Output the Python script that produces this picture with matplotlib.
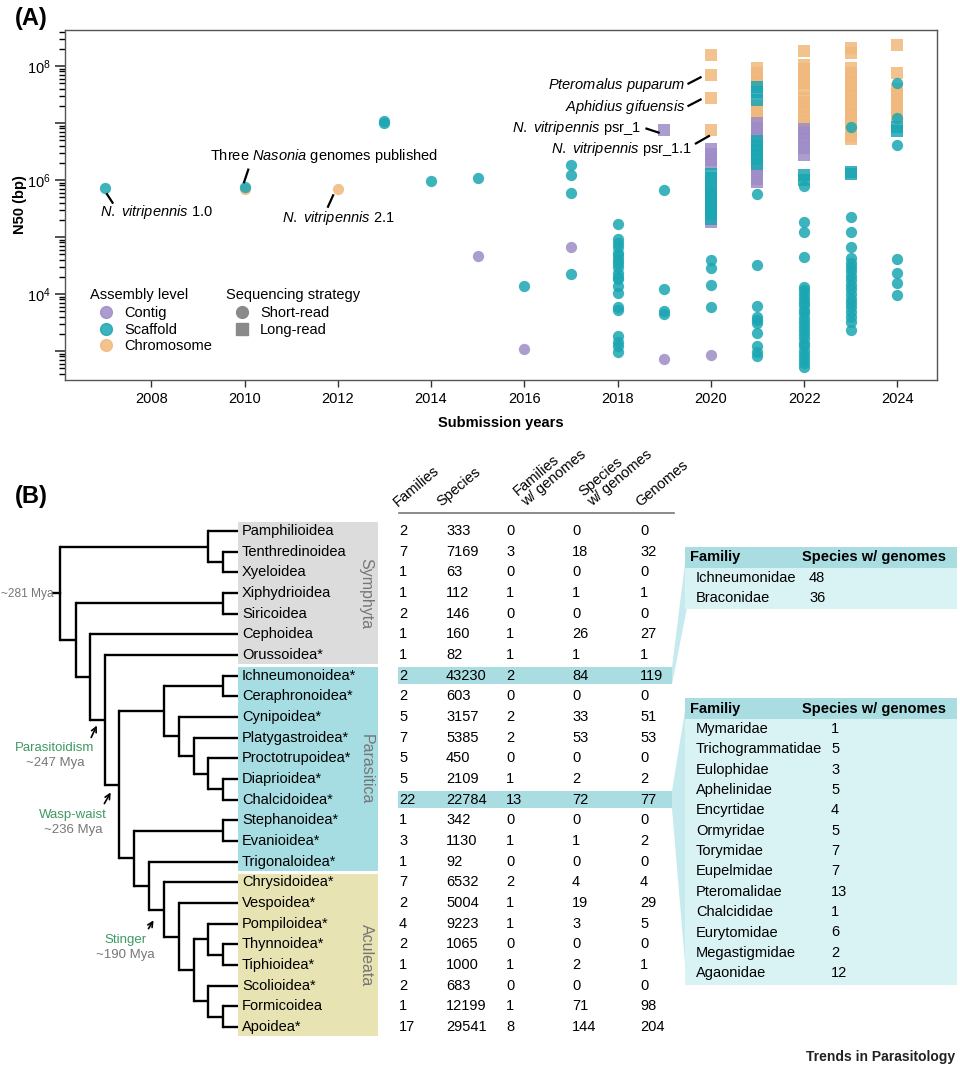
import math
import matplotlib.pyplot as plt
from matplotlib.lines import Line2D
from matplotlib.legend import Legend
from matplotlib.patches import Rectangle, Polygon
from matplotlib.ticker import FixedLocator, FuncFormatter, LogLocator, NullFormatter

plt.rcParams['font.family'] = ['Liberation Sans', 'DejaVu Sans']
plt.rcParams['mathtext.fontset'] = 'custom'
plt.rcParams['mathtext.rm'] = 'Liberation Sans'
plt.rcParams['mathtext.it'] = 'Liberation Sans:italic'
plt.rcParams['mathtext.bf'] = 'Liberation Sans:bold'

# ---------------- panel A data (N50 in bp) ----------------
contig_short = {2015: [4.7e4], 2016: [1.1e3], 2017: [6.6e4], 2019: [720], 2020: [850]}
chrom_short = {2010: [6.8e5], 2012: [6.8e5]}
scaffold_short = {
    2007: [7.2e5],
    2010: [7.6e5],
    2013: [1.0e7, 1.07e7],
    2014: [9.5e5],
    2015: [1.1e6],
    2016: [1.4e4],
    2017: [1.8e6, 1.2e6, 5.9e5, 2.2e4],
    2018: [1.7e5, 9.1e4, 7.9e4, 6.6e4, 5.2e4, 4.6e4, 4.0e4, 3.5e4, 3.0e4, 2.3e4,
           2.0e4, 1.8e4, 1.4e4, 1.05e4, 5.9e3, 5.2e3, 1.8e3, 1.45e3, 1.2e3, 950],
    2019: [6.6e5, 1.23e4, 5.0e3, 4.5e3],
    2020: [4.0e4, 2.8e4, 1.45e4, 5.9e3],
    2021: [5.6e5, 3.2e4, 6.2e3, 4.0e3, 3.5e3, 3.1e3, 2.1e3, 1.2e3, 950, 800],
    2022: [7.9e5, 1.8e5, 1.2e5, 4.5e4, 1.3e4, 1.15e4, 1.0e4, 8.5e3, 7.2e3, 6.3e3,
           5.2e3, 4.6e3, 3.8e3, 3.2e3, 2.75e3, 2.3e3, 2.0e3, 1.66e3, 1.4e3, 1.2e3,
           1.0e3, 850, 720, 620, 520],
    2023: [8.5e6, 2.2e5, 1.23e5, 6.6e4, 4.3e4, 3.5e4, 3.0e4, 2.5e4, 2.1e4, 1.74e4,
           1.45e4, 1.2e4, 1.0e4, 8.3e3, 6.9e3, 5.8e3, 4.8e3, 4.0e3, 3.2e3, 2.3e3],
    2024: [5.0e7, 1.2e7, 4.1e6, 4.1e4, 2.3e4, 1.55e4, 9.5e3],
}
contig_long = {
    2019: [7.6e6],
    2020: [3.5e6, 2.8e6, 2.2e6, 1.9e6, 1.8e5],
    2021: [1.0e7, 8.3e6, 7.1e6, 6.0e6, 1.7e6, 1.3e6, 1.05e6, 9.1e5],
    2022: [7.9e6, 6.6e6, 5.4e6, 4.4e6, 3.6e6, 2.75e6],
}
scaffold_long = {
    2020: [1.26e6, 1.07e6, 7.9e5, 6.6e5, 5.6e5, 4.8e5, 4.0e5, 3.4e5, 2.95e5, 2.5e5, 2.1e5],
    2021: [4.2e7, 3.5e7, 2.5e7, 4.8e6, 4.0e6, 3.3e6, 2.75e6, 2.3e6, 1.9e6],
    2022: [1.23e6, 1.0e6],
    2023: [1.38e6, 1.26e6],
    2024: [8.5e6, 7.2e6],
}
chrom_long = {
    2020: [1.55e8, 6.9e7, 2.75e7, 7.6e6],
    2021: [9.1e7, 7.6e7, 6.3e7, 5.2e7, 2.0e7, 1.66e7, 1.38e7, 1.15e7],
    2022: [1.8e8, 1.05e8, 8.7e7, 7.2e7, 6.0e7, 5.0e7, 4.0e7, 2.75e7, 2.3e7, 1.9e7,
           1.6e7, 1.3e7, 1.1e7, 9.1e6],
    2023: [2.1e8, 1.66e8, 9.1e7, 7.6e7, 6.3e7, 5.2e7, 4.4e7, 3.6e7, 3.0e7, 2.5e7,
           2.1e7, 1.74e7, 1.45e7, 1.2e7, 1.0e7, 7.9e6, 6.0e6, 5.2e6],
    2024: [2.3e8, 7.6e7, 4.0e7, 3.2e7, 2.5e7, 2.0e7, 1.6e7, 1.3e7],
}

C_CONTIG = '#9d8cc6'
C_SCAFF = '#1ba6b2'
C_CHROM = '#f0b87c'

# ---------------- panel B data ----------------
superfamilies = ['Pamphilioidea', 'Tenthredinoidea', 'Xyeloidea', 'Xiphydrioidea', 'Siricoidea',
                 'Cephoidea', 'Orussoidea*', 'Ichneumonoidea*', 'Ceraphronoidea*', 'Cynipoidea*',
                 'Platygastroidea*', 'Proctotrupoidea*', 'Diaprioidea*', 'Chalcidoidea*',
                 'Stephanoidea*', 'Evanioidea*', 'Trigonaloidea*', 'Chrysidoidea*', 'Vespoidea*',
                 'Pompiloidea*', 'Thynnoidea*', 'Tiphioidea*', 'Scolioidea*', 'Formicoidea', 'Apoidea*']
families = [2, 7, 1, 1, 2, 1, 1, 2, 2, 5, 7, 5, 5, 22, 1, 3, 1, 7, 2, 4, 2, 1, 2, 1, 17]
species = [333, 7169, 63, 112, 146, 160, 82, 43230, 603, 3157, 5385, 450, 2109, 22784, 342,
           1130, 92, 6532, 5004, 9223, 1065, 1000, 683, 12199, 29541]
families_w_genomes = [0, 3, 0, 1, 0, 1, 1, 2, 0, 2, 2, 0, 1, 13, 0, 1, 0, 2, 1, 1, 0, 1, 0, 1, 8]
species_w_genomes = [0, 18, 0, 1, 0, 26, 1, 84, 0, 33, 53, 0, 2, 72, 0, 1, 0, 4, 19, 3, 0, 2, 0, 71, 144]
genomes = [0, 32, 0, 1, 0, 27, 1, 119, 0, 51, 53, 0, 2, 77, 0, 2, 0, 4, 29, 5, 0, 1, 0, 98, 204]
col_headers = ['Families', 'Species', 'Families\nw/ genomes', 'Species\nw/ genomes', 'Genomes']

ichneumon_fams = ['Ichneumonidae', 'Braconidae']
ichneumon_sp = [48, 36]
chalcid_fams = ['Mymaridae', 'Trichogrammatidae', 'Eulophidae', 'Aphelinidae', 'Encyrtidae',
                'Ormyridae', 'Torymidae', 'Eupelmidae', 'Pteromalidae', 'Chalcididae',
                'Eurytomidae', 'Megastigmidae', 'Agaonidae']
chalcid_sp = [1, 5, 3, 5, 4, 5, 7, 7, 13, 1, 6, 2, 12]

groups = [('Symphyta', 0, 6, '#dcdcdc'), ('Parasitica', 7, 16, '#a6dde3'), ('Aculeata', 17, 24, '#e7e3b3')]

# tree nodes: (x of node in px, child, child)
chalc = (223, 'Diaprioidea*', 'Chalcidoidea*')
procto = (208, 'Proctotrupoidea*', chalc)
platy = (194, 'Platygastroidea*', procto)
cynip = (179, 'Cynipoidea*', platy)
ichn = (223, 'Ichneumonoidea*', 'Ceraphronoidea*')
proctotrupomorpha = (164, ichn, cynip)
pomp = (208, 'Pompiloidea*', (223, 'Thynnoidea*', 'Tiphioidea*'))
apo = (208, 'Scolioidea*', (223, 'Formicoidea', 'Apoidea*'))
vesp = (179, 'Vespoidea*', (194, pomp, apo))
chrys = (164, 'Chrysidoidea*', vesp)
trig = (149, 'Trigonaloidea*', chrys)
evan = (134, (223, 'Stephanoidea*', 'Evanioidea*'), trig)
apocrita = (119, proctotrupomorpha, evan)
oruss = (105, 'Orussoidea*', apocrita)
ceph = (90, 'Cephoidea', oruss)
xiph = (76, (223, 'Xiphydrioidea', 'Siricoidea'), ceph)
tree = (60, (208, 'Pamphilioidea', (223, 'Tenthredinoidea', 'Xyeloidea')), xiph)

# ============================================================================
fig = plt.figure(figsize=(9.6, 10.71), dpi=100)
W, H = 960, 1071

# ---------------- panel A ----------------
AX_L, AX_R, AX_T, AX_B = 65, 937, 30, 380
ax = fig.add_axes([AX_L / W, 1 - AX_B / H, (AX_R - AX_L) / W, (AX_B - AX_T) / H])
ax.set_yscale('log')


def scatter_group(d, color, marker, size):
    xs, ys = [], []
    for yr, vals in d.items():
        xs += [yr] * len(vals)
        ys += vals
    ax.scatter(xs, ys, s=size, c=color, marker=marker, alpha=0.85, linewidths=0, zorder=3)


scatter_group(chrom_long, C_CHROM, 's', 64)
scatter_group(contig_long, C_CONTIG, 's', 64)
scatter_group(scaffold_long, C_SCAFF, 's', 64)
scatter_group(chrom_short, C_CHROM, 'o', 66)
scatter_group(contig_short, C_CONTIG, 'o', 66)
scatter_group(scaffold_short, C_SCAFF, 'o', 66)

ax.set_xlim(2006.15, 2024.85)
ax.set_ylim(10 ** 2.49, 10 ** 8.63)
ax.set_xticks(range(2008, 2025, 2))


def ylab(v, p):
    e = round(math.log10(v))
    return r'$10^{%d}$' % e if e % 2 == 0 else ''


ax.yaxis.set_major_locator(FixedLocator([1e3, 1e4, 1e5, 1e6, 1e7, 1e8]))
ax.yaxis.set_major_formatter(FuncFormatter(ylab))
ax.yaxis.set_minor_locator(LogLocator(base=10, subs=range(2, 10)))
ax.yaxis.set_minor_formatter(NullFormatter())
ax.tick_params(axis='both', labelsize=10.5, direction='out', color='#333')
ax.tick_params(axis='y', which='major', length=7, width=1.2)
ax.tick_params(axis='y', which='minor', length=4, width=1)
ax.tick_params(axis='x', length=5, width=1)
for sp in ax.spines.values():
    sp.set_color('#555')
    sp.set_linewidth(1)
ax.set_xlabel('Submission years', fontsize=10.5, fontweight='bold', labelpad=7)
ax.set_ylabel('N50 (bp)', fontsize=10.5, fontweight='bold', labelpad=0)

# annotations
ann = [
    (2006.91, 10 ** 5.44, r'$\it{N.\ vitripennis}$ 1.0', 'left', [(2007.17, 2007.05), (10 ** 5.6, 10 ** 5.75)]),
    (2009.26, 10 ** 6.42, r'Three $\it{Nasonia}$ genomes published', 'left', [(2010.08, 2009.99), (10 ** 6.18, 10 ** 5.96)]),
    (2010.81, 10 ** 5.33, r'$\it{N.\ vitripennis}$ 2.1', 'left', [(2011.9, 2011.79), (10 ** 5.73, 10 ** 5.53)]),
    (2019.45, 10 ** 7.67, r'$\it{Pteromalus\ puparum}$', 'right', [(2019.52, 2019.78), (10 ** 7.69, 10 ** 7.8)]),
    (2019.45, 10 ** 7.28, r'$\it{Aphidius\ gifuensis}$', 'right', [(2019.52, 2019.78), (10 ** 7.3, 10 ** 7.41)]),
    (2018.5, 10 ** 6.91, r'$\it{N.\ vitripennis}$ psr_1', 'right', [(2018.62, 2018.88), (10 ** 6.9, 10 ** 6.83)]),
    (2019.6, 10 ** 6.54, r'$\it{N.\ vitripennis}$ psr_1.1', 'right', [(2019.68, 2019.96), (10 ** 6.64, 10 ** 6.77)]),
]
for tx, ty, label, ha, (lx, ly) in ann:
    ax.text(tx, ty, label, ha=ha, va='center', fontsize=10.5, zorder=5)
    ax.plot(lx, ly, color='k', lw=1.6, zorder=5)


# legends: titles as text, entries as legends (positions in figure px)
def ax_frac(px, py):
    return (px - AX_L) / (AX_R - AX_L), (AX_B - py) / (AX_B - AX_T)


lvl_handles = [Line2D([], [], ls='', marker='o', ms=8.5, color=c, alpha=0.85, label=l)
               for c, l in [(C_CONTIG, 'Contig'), (C_SCAFF, 'Scaffold'), (C_CHROM, 'Chromosome')]]
seq_handles = [Line2D([], [], ls='', marker=m, ms=8.5, color='#8a8a8a', label=l)
               for m, l in [('o', 'Short-read'), ('s', 'Long-read')]]
for title, handles, tx in [('Assembly level', lvl_handles, 90), ('Sequencing strategy', seq_handles, 226)]:
    ax.text(*ax_frac(tx, 295), title, transform=ax.transAxes, ha='left', va='center', fontsize=10.5)
    leg = Legend(ax, handles, [h.get_label() for h in handles], loc='upper left',
                 bbox_to_anchor=ax_frac(tx + 2, 306), frameon=False, fontsize=10.5,
                 handletextpad=0.3, labelspacing=0.18, handlelength=1.9, borderpad=0,
                 borderaxespad=0)
    ax.add_artist(leg)

# ---------------- overlay (pixel coordinates) for panel B ----------------
ov = fig.add_axes([0, 0, 1, 1])
ov.set_xlim(0, W)
ov.set_ylim(H, 0)
ov.axis('off')
ov.patch.set_visible(False)

ov.text(15, 18, '(A)', fontsize=17, fontweight='bold', va='center', ha='left')
ov.text(15, 497, '(B)', fontsize=17, fontweight='bold', va='center', ha='left')

ROW0, DROW = 531, 20.67
row_y = {n: ROW0 + i * DROW for i, n in enumerate(superfamilies)}
TIP_X = 238

for name, i0, i1, col in groups:
    top = row_y[superfamilies[i0]] - DROW / 2 + 1.5
    bot = row_y[superfamilies[i1]] + DROW / 2 - 1.0
    ov.add_patch(Rectangle((TIP_X, top), 140, bot - top, color=col, lw=0, zorder=1))
    ov.text(366, (top + bot) / 2, name, rotation=-90, ha='center', va='center',
            fontsize=11.5, color='#767676', zorder=3)

for n in superfamilies:
    ov.text(242, row_y[n], n, ha='left', va='center', fontsize=10.5, zorder=3)


def draw(node):
    if isinstance(node, str):
        return row_y[node], TIP_X
    x, a, b = node
    ya, xa = draw(a)
    yb, xb = draw(b)
    ov.plot([x, x], [ya, yb], color='k', lw=1.7, solid_capstyle='projecting', zorder=2)
    ov.plot([x, xa], [ya, ya], color='k', lw=1.7, solid_capstyle='butt', zorder=2)
    ov.plot([x, xb], [yb, yb], color='k', lw=1.7, solid_capstyle='butt', zorder=2)
    return (ya + yb) / 2, x


root_y, root_x = draw(tree)
ov.plot([53, root_x], [root_y, root_y], color='k', lw=1.7, zorder=2)
ov.text(54, root_y + 1, '~281 Mya', ha='right', va='center', fontsize=8.6, color='#777')

GREEN = '#3f9963'
for (tx, ty, lab, mya, a0, a1) in [(55, 748, 'Parasitoidism', '~247 Mya', (90, 740), (98, 723)),
                                   (73, 815, 'Wasp-waist', '~236 Mya', (103, 806), (112, 790)),
                                   (125, 940, 'Stinger', '~190 Mya', (147, 931), (155, 918))]:
    ov.text(tx, ty, lab, ha='center', va='center', fontsize=9.5, color=GREEN)
    ov.text(tx, ty + 15, mya, ha='center', va='center', fontsize=9.5, color='#777')
    ov.annotate('', xy=a1, xytext=a0,
                arrowprops=dict(arrowstyle='->', lw=1.2, color='k', mutation_scale=9))

# table
col_x = [399, 446, 506, 572, 640]
head_x = [400, 443, 528, 594, 642]
for hx, h in zip(head_x, col_headers):
    ov.text(hx, 509, h, rotation=40, rotation_mode='anchor', ha='left', va='bottom',
            fontsize=10.5, linespacing=0.95)
ov.plot([399, 674], [513, 513], color='#777', lw=1.2)

BAND = '#a9dde2'
WEDGE = '#c6eaed'
HEAD = '#a9dde2'
BODY = '#d9f2f4'
# highlight bands and connectors
r = row_y['Ichneumonoidea*']
ov.add_patch(Rectangle((398, r - 8.5), 274, 17, color=BAND, lw=0, zorder=1))
ov.add_patch(Polygon([(672, r - 8.5), (687, 547), (687, 608), (672, r + 8.5)], color=WEDGE, lw=0, zorder=1))
r = row_y['Chalcidoidea*']
ov.add_patch(Rectangle((398, r - 8.5), 274, 17, color=BAND, lw=0, zorder=1))
ov.add_patch(Polygon([(672, r - 8.5), (687, 698), (687, 987), (672, r + 8.5)], color=WEDGE, lw=0, zorder=1))

for i, n in enumerate(superfamilies):
    for cx, vals in zip(col_x, [families, species, families_w_genomes, species_w_genomes, genomes]):
        ov.text(cx, row_y[n], str(vals[i]), ha='left', va='center', fontsize=10.5, zorder=3)


# side tables
def side_table(top, fams, vals, val_x):
    n = len(fams)
    ov.add_patch(Rectangle((685, top), 272, 21, color=HEAD, lw=0, zorder=1))
    ov.add_patch(Rectangle((685, top + 21), 272, n * 20.4 + 0.5, color=BODY, lw=0, zorder=1))
    ov.text(690, top + 10.5, 'Familiy', fontweight='bold', ha='left', va='center', fontsize=10.5)
    ov.text(802, top + 10.5, 'Species w/ genomes', fontweight='bold', ha='left', va='center', fontsize=10.5)
    for i, (f, v) in enumerate(zip(fams, vals)):
        y = top + 31 + i * 20.35
        ov.text(696, y, f, ha='left', va='center', fontsize=10.5)
        ov.text(val_x, y, str(v), ha='left', va='center', fontsize=10.5)


side_table(547, ichneumon_fams, ichneumon_sp, 809)
side_table(698, chalcid_fams, chalcid_sp, 831)

ov.text(955, 1057, 'Trends in Parasitology', ha='right', va='center', fontsize=10,
        fontweight='bold', color='#222')

fig.savefig('out.png', dpi=100)
